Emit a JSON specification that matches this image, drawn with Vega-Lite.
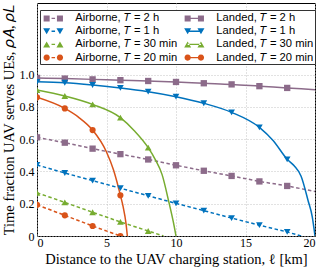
{
  "$schema": "https://vega.github.io/schema/vega-lite/v6.json",
  "width": 278,
  "height": 233,
  "autosize": "none",
  "padding": {"left": 37, "top": 3, "right": 10, "bottom": 34},
  "background": "white",
  "config": {
    "view": {"stroke": "#000", "strokeWidth": 1},
    "axis": {
      "labelFont": "Liberation Serif", "labelFontSize": 12, "labelColor": "#000",
      "titleFont": "Liberation Serif", "titleFontSize": 14.5, "titleFontWeight": "normal", "titleColor": "#000",
      "ticks": false, "domain": false, "grid": true,
      "gridColor": "#bdbdbd", "gridDash": [1, 2], "gridWidth": 0.9
    },
    "legend": {
      "symbolSize": 196, "symbolStrokeWidth": 0, "symbolOffset": 5.3, "symbolOpacity": 1,
      "labelOffset": 15, "labelFont": "Liberation Sans", "labelFontSize": 11.2, "labelColor": "#000",
      "columnPadding": 4, "rowPadding": 0.2, "padding": 1,
      "strokeColor": "#333", "fillColor": "#fff", "cornerRadius": 0, "labelLimit": 200
    }
  },
  "datasets": {
    "curves": [
      {"s": "Airborne, 𝑇 = 2 h", "m": "A", "T": "2h", "l": 0, "rho": 0.611},
      {"s": "Airborne, 𝑇 = 2 h", "m": "A", "T": "2h", "l": 2, "rho": 0.578},
      {"s": "Airborne, 𝑇 = 2 h", "m": "A", "T": "2h", "l": 4, "rho": 0.541},
      {"s": "Airborne, 𝑇 = 2 h", "m": "A", "T": "2h", "l": 6, "rho": 0.507},
      {"s": "Airborne, 𝑇 = 2 h", "m": "A", "T": "2h", "l": 8, "rho": 0.474},
      {"s": "Airborne, 𝑇 = 2 h", "m": "A", "T": "2h", "l": 10, "rho": 0.438},
      {"s": "Airborne, 𝑇 = 2 h", "m": "A", "T": "2h", "l": 12, "rho": 0.404},
      {"s": "Airborne, 𝑇 = 2 h", "m": "A", "T": "2h", "l": 14, "rho": 0.372},
      {"s": "Airborne, 𝑇 = 2 h", "m": "A", "T": "2h", "l": 16, "rho": 0.338},
      {"s": "Airborne, 𝑇 = 2 h", "m": "A", "T": "2h", "l": 18, "rho": 0.31},
      {"s": "Airborne, 𝑇 = 2 h", "m": "A", "T": "2h", "l": 20, "rho": 0.276},
      {"s": "Landed, 𝑇 = 2 h", "m": "L", "T": "2h", "l": 0, "rho": 0.979},
      {"s": "Landed, 𝑇 = 2 h", "m": "L", "T": "2h", "l": 2, "rho": 0.975},
      {"s": "Landed, 𝑇 = 2 h", "m": "L", "T": "2h", "l": 4, "rho": 0.970},
      {"s": "Landed, 𝑇 = 2 h", "m": "L", "T": "2h", "l": 6, "rho": 0.965},
      {"s": "Landed, 𝑇 = 2 h", "m": "L", "T": "2h", "l": 8, "rho": 0.960},
      {"s": "Landed, 𝑇 = 2 h", "m": "L", "T": "2h", "l": 10, "rho": 0.954},
      {"s": "Landed, 𝑇 = 2 h", "m": "L", "T": "2h", "l": 12, "rho": 0.946},
      {"s": "Landed, 𝑇 = 2 h", "m": "L", "T": "2h", "l": 14, "rho": 0.939},
      {"s": "Landed, 𝑇 = 2 h", "m": "L", "T": "2h", "l": 16, "rho": 0.928},
      {"s": "Landed, 𝑇 = 2 h", "m": "L", "T": "2h", "l": 18, "rho": 0.917},
      {"s": "Landed, 𝑇 = 2 h", "m": "L", "T": "2h", "l": 20, "rho": 0.906},
      {"s": "Airborne, 𝑇 = 1 h", "m": "A", "T": "1h", "l": 0, "rho": 0.44},
      {"s": "Airborne, 𝑇 = 1 h", "m": "A", "T": "1h", "l": 2, "rho": 0.39},
      {"s": "Airborne, 𝑇 = 1 h", "m": "A", "T": "1h", "l": 4, "rho": 0.343},
      {"s": "Airborne, 𝑇 = 1 h", "m": "A", "T": "1h", "l": 6, "rho": 0.296},
      {"s": "Airborne, 𝑇 = 1 h", "m": "A", "T": "1h", "l": 8, "rho": 0.249},
      {"s": "Airborne, 𝑇 = 1 h", "m": "A", "T": "1h", "l": 10, "rho": 0.202},
      {"s": "Airborne, 𝑇 = 1 h", "m": "A", "T": "1h", "l": 12, "rho": 0.157},
      {"s": "Airborne, 𝑇 = 1 h", "m": "A", "T": "1h", "l": 14, "rho": 0.111},
      {"s": "Airborne, 𝑇 = 1 h", "m": "A", "T": "1h", "l": 16, "rho": 0.067},
      {"s": "Airborne, 𝑇 = 1 h", "m": "A", "T": "1h", "l": 18, "rho": 0.025},
      {"s": "Airborne, 𝑇 = 1 h", "m": "A", "T": "1h", "l": 19, "rho": 0},
      {"s": "Landed, 𝑇 = 1 h", "m": "L", "T": "1h", "l": 0, "rho": 0.955},
      {"s": "Landed, 𝑇 = 1 h", "m": "L", "T": "1h", "l": 2, "rho": 0.949},
      {"s": "Landed, 𝑇 = 1 h", "m": "L", "T": "1h", "l": 4, "rho": 0.935},
      {"s": "Landed, 𝑇 = 1 h", "m": "L", "T": "1h", "l": 6, "rho": 0.917},
      {"s": "Landed, 𝑇 = 1 h", "m": "L", "T": "1h", "l": 8, "rho": 0.894},
      {"s": "Landed, 𝑇 = 1 h", "m": "L", "T": "1h", "l": 10, "rho": 0.863},
      {"s": "Landed, 𝑇 = 1 h", "m": "L", "T": "1h", "l": 12, "rho": 0.822},
      {"s": "Landed, 𝑇 = 1 h", "m": "L", "T": "1h", "l": 14, "rho": 0.766},
      {"s": "Landed, 𝑇 = 1 h", "m": "L", "T": "1h", "l": 16, "rho": 0.673},
      {"s": "Landed, 𝑇 = 1 h", "m": "L", "T": "1h", "l": 17, "rho": 0.59},
      {"s": "Landed, 𝑇 = 1 h", "m": "L", "T": "1h", "l": 18, "rho": 0.475},
      {"s": "Landed, 𝑇 = 1 h", "m": "L", "T": "1h", "l": 18.5, "rho": 0.435},
      {"s": "Landed, 𝑇 = 1 h", "m": "L", "T": "1h", "l": 19, "rho": 0.37},
      {"s": "Landed, 𝑇 = 1 h", "m": "L", "T": "1h", "l": 19.5, "rho": 0.22},
      {"s": "Landed, 𝑇 = 1 h", "m": "L", "T": "1h", "l": 19.8, "rho": 0.12},
      {"s": "Landed, 𝑇 = 1 h", "m": "L", "T": "1h", "l": 20, "rho": 0},
      {"s": "Airborne, 𝑇 = 30 min", "m": "A", "T": "30m", "l": 0, "rho": 0.268},
      {"s": "Airborne, 𝑇 = 30 min", "m": "A", "T": "30m", "l": 2, "rho": 0.208},
      {"s": "Airborne, 𝑇 = 30 min", "m": "A", "T": "30m", "l": 4, "rho": 0.147},
      {"s": "Airborne, 𝑇 = 30 min", "m": "A", "T": "30m", "l": 6, "rho": 0.087},
      {"s": "Airborne, 𝑇 = 30 min", "m": "A", "T": "30m", "l": 8, "rho": 0.031},
      {"s": "Airborne, 𝑇 = 30 min", "m": "A", "T": "30m", "l": 9.1, "rho": 0},
      {"s": "Landed, 𝑇 = 30 min", "m": "L", "T": "30m", "l": 0, "rho": 0.904},
      {"s": "Landed, 𝑇 = 30 min", "m": "L", "T": "30m", "l": 2, "rho": 0.867},
      {"s": "Landed, 𝑇 = 30 min", "m": "L", "T": "30m", "l": 4, "rho": 0.815},
      {"s": "Landed, 𝑇 = 30 min", "m": "L", "T": "30m", "l": 6, "rho": 0.733},
      {"s": "Landed, 𝑇 = 30 min", "m": "L", "T": "30m", "l": 7, "rho": 0.652},
      {"s": "Landed, 𝑇 = 30 min", "m": "L", "T": "30m", "l": 8, "rho": 0.547},
      {"s": "Landed, 𝑇 = 30 min", "m": "L", "T": "30m", "l": 8.5, "rho": 0.475},
      {"s": "Landed, 𝑇 = 30 min", "m": "L", "T": "30m", "l": 9, "rho": 0.38},
      {"s": "Landed, 𝑇 = 30 min", "m": "L", "T": "30m", "l": 9.5, "rho": 0.205},
      {"s": "Landed, 𝑇 = 30 min", "m": "L", "T": "30m", "l": 9.8, "rho": 0.09},
      {"s": "Landed, 𝑇 = 30 min", "m": "L", "T": "30m", "l": 10, "rho": 0},
      {"s": "Airborne, 𝑇 = 20 min", "m": "A", "T": "20m", "l": 0, "rho": 0.193},
      {"s": "Airborne, 𝑇 = 20 min", "m": "A", "T": "20m", "l": 2, "rho": 0.128},
      {"s": "Airborne, 𝑇 = 20 min", "m": "A", "T": "20m", "l": 4, "rho": 0.062},
      {"s": "Airborne, 𝑇 = 20 min", "m": "A", "T": "20m", "l": 6, "rho": 0},
      {"s": "Landed, 𝑇 = 20 min", "m": "L", "T": "20m", "l": 0, "rho": 0.859},
      {"s": "Landed, 𝑇 = 20 min", "m": "L", "T": "20m", "l": 2, "rho": 0.79},
      {"s": "Landed, 𝑇 = 20 min", "m": "L", "T": "20m", "l": 3, "rho": 0.735},
      {"s": "Landed, 𝑇 = 20 min", "m": "L", "T": "20m", "l": 4, "rho": 0.656},
      {"s": "Landed, 𝑇 = 20 min", "m": "L", "T": "20m", "l": 5, "rho": 0.52},
      {"s": "Landed, 𝑇 = 20 min", "m": "L", "T": "20m", "l": 5.5, "rho": 0.41},
      {"s": "Landed, 𝑇 = 20 min", "m": "L", "T": "20m", "l": 6, "rho": 0.252},
      {"s": "Landed, 𝑇 = 20 min", "m": "L", "T": "20m", "l": 6.2, "rho": 0.18},
      {"s": "Landed, 𝑇 = 20 min", "m": "L", "T": "20m", "l": 6.4, "rho": 0.08},
      {"s": "Landed, 𝑇 = 20 min", "m": "L", "T": "20m", "l": 6.5, "rho": 0}
    ]
  },
  "data": {"name": "curves"},
  "encoding": {
    "x": {"field": "l", "type": "quantitative", "scale": {"domain": [0, 20], "nice": false},
      "axis": {"values": [0, 5, 10, 15, 20], "labelPadding": 1, "titlePadding": 4, "title": "Distance to the UAV charging station, ℓ [km]"}},
    "y": {"field": "rho", "type": "quantitative", "scale": {"domain": [0, 1.443], "nice": false, "zero": false},
      "axis": {"values": [0, 0.2, 0.4, 0.6, 0.8, 1.0], "labelPadding": 3, "titlePadding": 3,
        "labelExpr": "datum.value == 0 ? '0' : format(datum.value, '.1f')",
        "title": "Time fraction UAV serves UEs, 𝜌𝐴, 𝜌𝐿"}},
    "color": {"field": "s", "type": "nominal", "legend": null,
      "scale": {
        "domain": ["Landed, 𝑇 = 2 h", "Airborne, 𝑇 = 2 h", "Landed, 𝑇 = 1 h", "Airborne, 𝑇 = 1 h", "Landed, 𝑇 = 30 min", "Airborne, 𝑇 = 30 min", "Landed, 𝑇 = 20 min", "Airborne, 𝑇 = 20 min"],
        "range": ["#8c6b8a", "#8c6b8a", "#0072bd", "#0072bd", "#77ac30", "#77ac30", "#d95319", "#d95319"]}}
  },
  "layer": [
    {"transform": [{"filter": "datum.m == 'A'"}],
      "mark": {"type": "line", "strokeWidth": 1.5, "strokeDash": [3.5, 2.5], "clip": true}},
    {"transform": [{"filter": "datum.m == 'L'"}],
      "mark": {"type": "line", "strokeWidth": 1.5, "interpolate": "monotone", "clip": true}},
    {"transform": [{"filter": "datum.T == '2h' && datum.l % 2 == 0 && datum.l <= 18"}],
      "mark": {"type": "point", "shape": "square", "filled": true, "opacity": 1, "size": 40, "clip": true}},
    {"transform": [{"filter": "datum.T == '1h' && datum.l % 2 == 0 && datum.l <= 18"}],
      "mark": {"type": "point", "shape": "triangle-down", "filled": true, "opacity": 1, "size": 45, "clip": true}},
    {"transform": [{"filter": "datum.T == '30m' && datum.l % 2 == 0 && datum.l <= 18 && (datum.rho > 0 || datum.m == 'A')"}],
      "mark": {"type": "point", "shape": "triangle-up", "filled": true, "opacity": 1, "size": 45, "clip": true}},
    {"transform": [{"filter": "datum.T == '20m' && datum.l % 2 == 0 && datum.l <= 18 && (datum.rho > 0 || datum.m == 'A')"}],
      "mark": {"type": "point", "shape": "circle", "filled": true, "opacity": 1, "size": 38, "clip": true}},
    {"transform": [{"filter": "datum.l == 0"}],
      "mark": {"type": "point", "filled": true, "opacity": 0, "clip": true},
      "encoding": {
        "color": {"value": "#000"},
        "fill": {"field": "s", "type": "nominal",
          "legend": {"title": null, "orient": "none", "legendX": 3, "legendY": 7, "columns": 2},
          "scale": {
            "domain": ["Airborne, 𝑇 = 2 h", "Airborne, 𝑇 = 1 h", "Airborne, 𝑇 = 30 min", "Airborne, 𝑇 = 20 min", "Landed, 𝑇 = 2 h", "Landed, 𝑇 = 1 h", "Landed, 𝑇 = 30 min", "Landed, 𝑇 = 20 min"],
            "range": ["#8c6b8a", "#0072bd", "#77ac30", "#d95319", "#8c6b8a", "#0072bd", "#77ac30", "#d95319"]}},
        "shape": {"field": "s", "type": "nominal",
          "legend": {"title": null, "orient": "none", "legendX": 3, "legendY": 7, "columns": 2},
          "scale": {
            "domain": ["Airborne, 𝑇 = 2 h", "Airborne, 𝑇 = 1 h", "Airborne, 𝑇 = 30 min", "Airborne, 𝑇 = 20 min", "Landed, 𝑇 = 2 h", "Landed, 𝑇 = 1 h", "Landed, 𝑇 = 30 min", "Landed, 𝑇 = 20 min"],
            "range": [
              "M-1.38,-0.43H-0.52V0.43H-1.38ZM0.52,-0.43H1.38V0.43H0.52ZM-0.25,-0.1H0.25V0.1H-0.25Z",
              "M-1.45,-0.43H-0.45L-0.95,0.43ZM0.45,-0.43H1.45L0.95,0.43ZM-0.25,-0.1H0.25V0.1H-0.25Z",
              "M-1.45,0.43H-0.45L-0.95,-0.43ZM0.45,0.43H1.45L0.95,-0.43ZM-0.25,-0.1H0.25V0.1H-0.25Z",
              "M-0.5,0L-0.56,0.225L-0.725,0.39L-0.95,0.45L-1.175,0.39L-1.34,0.225L-1.4,0L-1.34,-0.225L-1.175,-0.39L-0.95,-0.45L-0.725,-0.39L-0.56,-0.225ZM1.4,0L1.34,0.225L1.175,0.39L0.95,0.45L0.725,0.39L0.56,0.225L0.5,0L0.56,-0.225L0.725,-0.39L0.95,-0.45L1.175,-0.39L1.34,-0.225ZM-0.25,-0.1H0.25V0.1H-0.25Z",
              "M-1.38,-0.43H-0.52V0.43H-1.38ZM0.52,-0.43H1.38V0.43H0.52ZM-0.95,-0.1H0.95V0.1H-0.95Z",
              "M-1.45,-0.43H-0.45L-0.95,0.43ZM0.45,-0.43H1.45L0.95,0.43ZM-0.95,-0.1H0.95V0.1H-0.95Z",
              "M-1.45,0.43H-0.45L-0.95,-0.43ZM0.45,0.43H1.45L0.95,-0.43ZM-0.95,-0.1H0.95V0.1H-0.95Z",
              "M-0.5,0L-0.56,0.225L-0.725,0.39L-0.95,0.45L-1.175,0.39L-1.34,0.225L-1.4,0L-1.34,-0.225L-1.175,-0.39L-0.95,-0.45L-0.725,-0.39L-0.56,-0.225ZM1.4,0L1.34,0.225L1.175,0.39L0.95,0.45L0.725,0.39L0.56,0.225L0.5,0L0.56,-0.225L0.725,-0.39L0.95,-0.45L1.175,-0.39L1.34,-0.225ZM-0.95,-0.1H0.95V0.1H-0.95Z"
            ]}}
      }}
  ]
}
